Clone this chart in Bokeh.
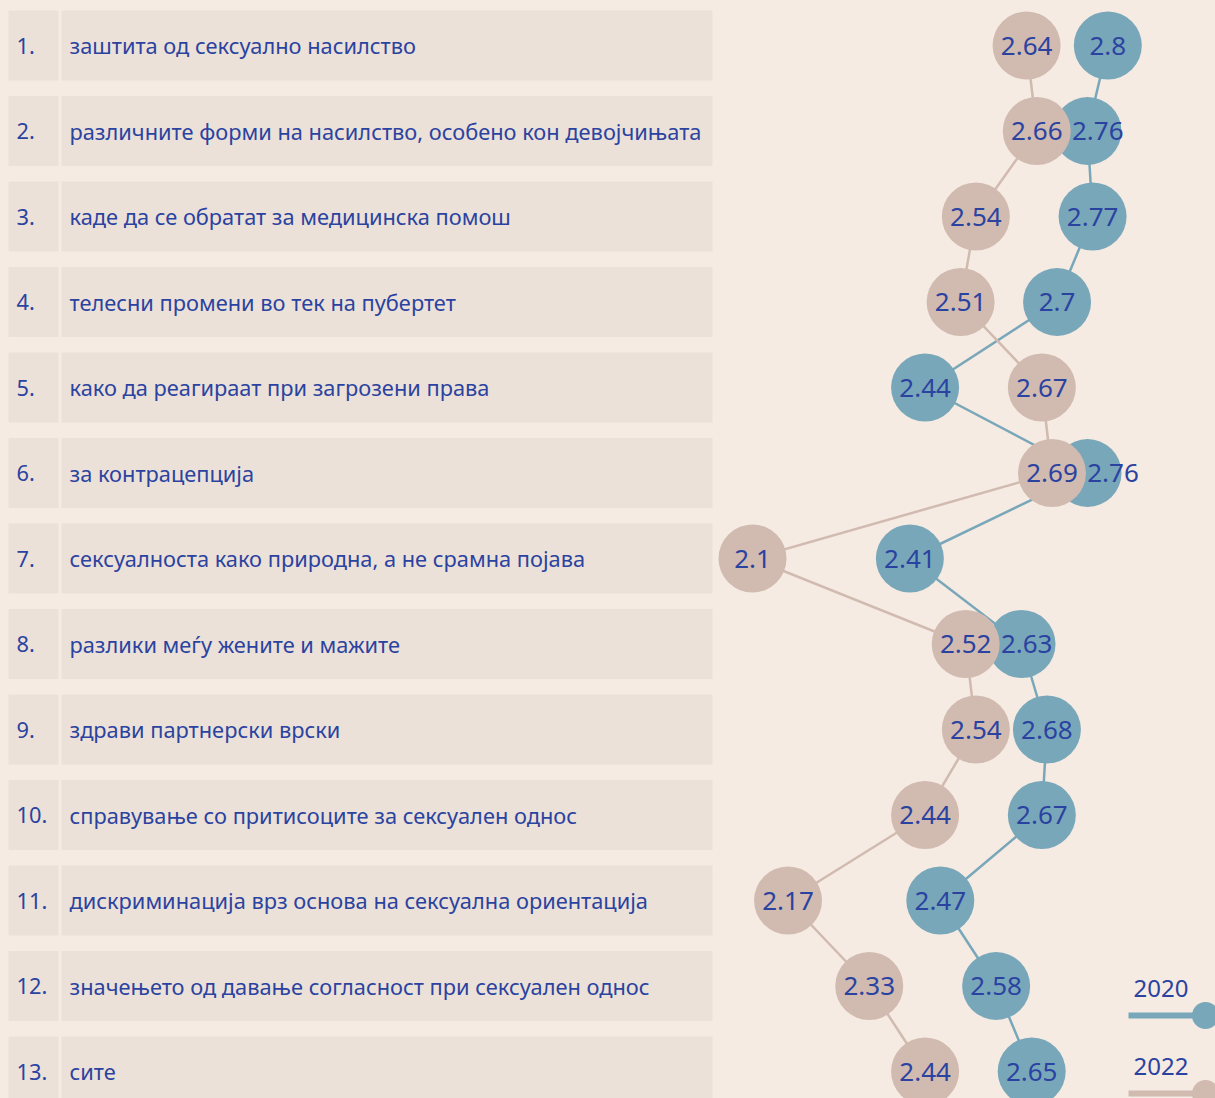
from bokeh.plotting import figure
from bokeh.models import Range1d, ColumnDataSource, GlobalInlineStyleSheet
from bokeh.core.properties import value
from bokeh.embed import file_html
from bokeh.resources import INLINE

# ---------------- data ----------------
numbers = ["1.", "2.", "3.", "4.", "5.", "6.", "7.", "8.", "9.", "10.", "11.", "12.", "13."]
labels = [
    "заштита од сексуално насилство",
    "различните форми на насилство, особено кон девојчињата",
    "каде да се обратат за медицинска помош",
    "телесни промени во тек на пубертет",
    "како да реагираат при загрозени права",
    "за контрацепција",
    "сексуалноста како природна, а не срамна појава",
    "разлики меѓу жените и мажите",
    "здрави партнерски врски",
    "справување со притисоците за сексуален однос",
    "дискриминација врз основа на сексуална ориентација",
    "значењето од давање согласност при сексуален однос",
    "сите",
]
v2020 = [2.8, 2.76, 2.77, 2.7, 2.44, 2.76, 2.41, 2.63, 2.68, 2.67, 2.47, 2.58, 2.65]
v2022 = [2.64, 2.66, 2.54, 2.51, 2.67, 2.69, 2.1, 2.52, 2.54, 2.44, 2.17, 2.33, 2.44]
series_names = ["2020", "2022"]

# ---------------- style / layout ----------------
W, H = 1215, 1098
BG = "#f5ebe2"
BOX = "#ebe1d8"
TXT = "#2b43a0"
BLUE = "#79a7ba"
TAN = "#d1bab0"
FONT = "Noto Sans"
PITCH = 85.5          # px per row
ROW0 = 45             # px of first row center from top of frame
PX_PER_UNIT = 507.6   # px per value unit
X_REF_VAL, X_REF_PX = 2.1, 752.0

n = len(labels)
rows = list(range(n))

y_top = -ROW0 / PITCH
y_bot = y_top + H / PITCH
v_start = X_REF_VAL - X_REF_PX / PX_PER_UNIT
v_end = v_start + W / PX_PER_UNIT

p = figure(width=W, height=H, output_backend="svg", toolbar_location=None,
           x_range=Range1d(0, W), y_range=Range1d(y_bot, y_top),
           min_border=0, min_border_left=0, min_border_right=0,
           min_border_top=0, min_border_bottom=0)
p.extra_x_ranges = {"val": Range1d(v_start, v_end)}
p.axis.visible = False
p.grid.visible = False
p.outline_line_color = None
p.background_fill_color = BG
p.border_fill_color = BG
p.stylesheets = [GlobalInlineStyleSheet(css=f"html, body {{ background-color: {BG}; }}")]

half = 35 / PITCH
# row boxes
p.quad(left=8, right=58, top=[r - half for r in rows], bottom=[r + half for r in rows],
       fill_color=BOX, line_color=None)
p.quad(left=61, right=712, top=[r - half for r in rows], bottom=[r + half for r in rows],
       fill_color=BOX, line_color=None)
p.text(x=16, y=rows, text=numbers, text_font=value(FONT), text_font_size="21.8px",
       text_color=TXT, text_align="left", text_baseline="middle")
p.text(x=69, y=rows, text=labels, text_font=value(FONT), text_font_size="21.8px",
       text_color=TXT, text_align="left", text_baseline="middle")

# lines
p.line(x=v2020, y=rows, x_range_name="val", line_color=BLUE, line_width=2.5)
p.line(x=v2022, y=rows, x_range_name="val", line_color=TAN, line_width=2.5)

# circles
p.scatter(x=v2020, y=rows, x_range_name="val", size=68, fill_color=BLUE, line_color=None)
p.scatter(x=v2022, y=rows, x_range_name="val", size=68, fill_color=TAN, line_color=None)

# labels with simple collision nudge
def fmt(v):
    return f"{v:g}"

CHAR_W = 12.75
GAP = 10
off2020 = []
for a, b in zip(v2020, v2022):
    pa, pb = a * PX_PER_UNIT, b * PX_PER_UNIT
    wa, wb = len(fmt(a)) * CHAR_W, len(fmt(b)) * CHAR_W
    off = 0
    if pa >= pb:
        gap = (pa - wa / 2) - (pb + wb / 2)
        if gap < GAP and pa - pb < 69:
            off = GAP - gap
    off2020.append(off)

src20 = ColumnDataSource(dict(x=v2020, y=rows, t=[fmt(v) for v in v2020], o=off2020))
p.text(x="x", y="y", text="t", x_offset="o", source=src20, x_range_name="val",
       text_font=value(FONT), text_font_size="26px", text_color=TXT,
       text_align="center", text_baseline="middle")
p.text(x=v2022, y=rows, text=[fmt(v) for v in v2022], x_range_name="val",
       text_font=value(FONT), text_font_size="26px", text_color=TXT,
       text_align="center", text_baseline="middle")

# legend
leg_text_y = [(988 - ROW0) / PITCH, (1066 - ROW0) / PITCH]
leg_line_y = [(1015 - ROW0) / PITCH, (1093 - ROW0) / PITCH]
p.text(x=1133, y=leg_text_y, text=series_names, text_font=value(FONT), text_font_size="24px",
       text_color=TXT, text_align="left", text_baseline="middle")
for yy, col in zip(leg_line_y, [BLUE, TAN]):
    p.segment(x0=1128, x1=1205, y0=yy, y1=yy, line_color=col, line_width=6)
    p.scatter(x=[1205], y=[yy], size=27, fill_color=col, line_color=None)

open("out.html", "w").write(file_html(p, INLINE))
